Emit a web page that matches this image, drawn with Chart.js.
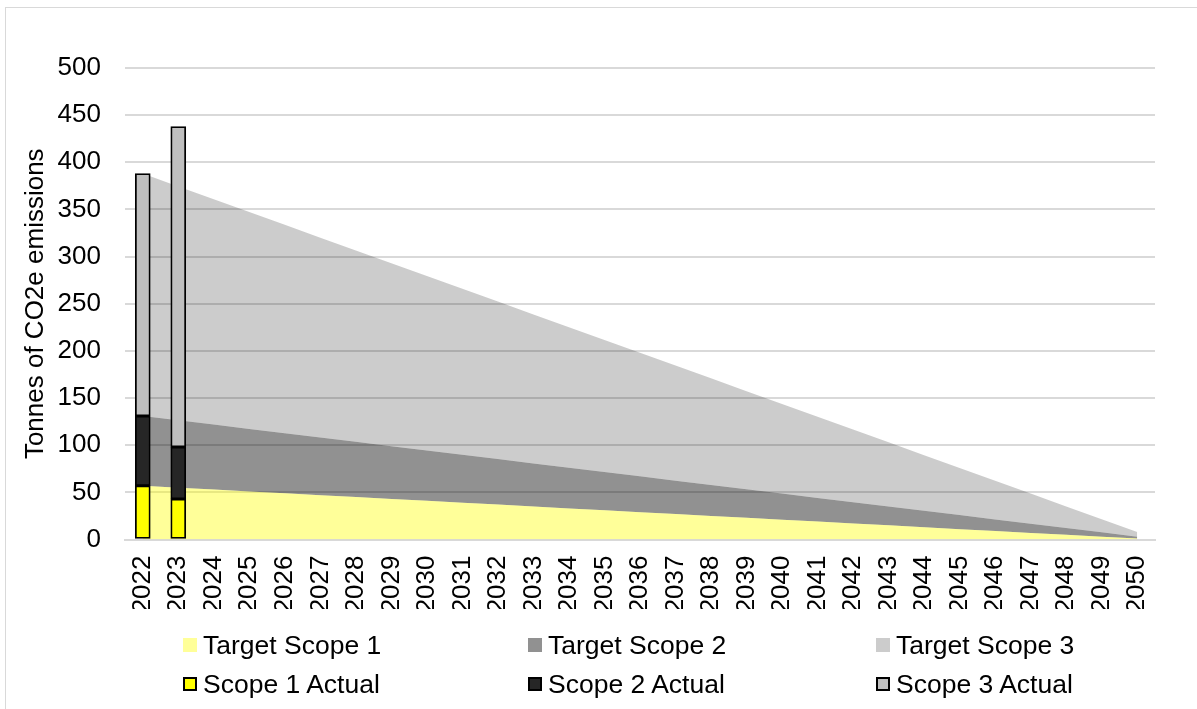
<!DOCTYPE html>
<html>
<head>
<meta charset="utf-8">
<title>Emissões</title>
<script src="https://cdn.jsdelivr.net/npm/chart.js@4.4.1/dist/chart.umd.min.js"></script>
<style>
  html, body { margin: 0; padding: 0; background: #fff; }
  #quadro { position: relative; width: 1197px; height: 709px; overflow: hidden; font-family: "Liberation Sans", Arial, sans-serif; }
  #moldura { position: absolute; left: 5px; top: 7px; width: 1300px; height: 800px; border: 1px solid #d9d9d9; box-sizing: border-box; }
  #grafico { position: absolute; left: 0; top: 0; }
  .legenda { position: absolute; font-size: 26.5px; line-height: 30px; color: #000; white-space: nowrap; }
  .legenda .marca { position: absolute; width: 14px; height: 14px; left: -20px; top: 8px; box-sizing: border-box; }
</style>
</head>
<body>
<div id="quadro">
  <div id="moldura"></div>
  <canvas id="grafico" width="1197" height="709"></canvas>

  <div class="legenda" style="left:203px; top:630px;"><span class="marca" style="background:#ffff99;"></span>Target Scope 1</div>
  <div class="legenda" style="left:548px; top:630px;"><span class="marca" style="background:#919191;"></span>Target Scope 2</div>
  <div class="legenda" style="left:896px; top:630px;"><span class="marca" style="background:#cccccc;"></span>Target Scope 3</div>
  <div class="legenda" style="left:203px; top:669px;"><span class="marca" style="background:#ffff00; border:2px solid #000;"></span>Scope 1 Actual</div>
  <div class="legenda" style="left:548px; top:669px;"><span class="marca" style="background:#262626; border:2px solid #000;"></span>Scope 2 Actual</div>
  <div class="legenda" style="left:896px; top:669px;"><span class="marca" style="background:#bfbfbf; border:2px solid #000;"></span>Scope 3 Actual</div>
</div>

<script>
// Anos do eixo x
const anos = ['2022', '2023', '2024', '2025', '2026', '2027', '2028', '2029', '2030', '2031',
  '2032', '2033', '2034', '2035', '2036', '2037', '2038', '2039', '2040', '2041',
  '2042', '2043', '2044', '2045', '2046', '2047', '2048', '2049', '2050'];

// Metas (toneladas) por ano
const metaEscopo1 = [57, 55, 53, 51, 49, 47, 45, 43, 41, 39, 37, 35, 33, 31, 29,
  27, 25, 23, 21, 19, 17, 15, 13, 11, 9, 7, 5, 3, 1];
const metaEscopo2 = [74, 71.4, 68.9, 66.3, 63.7, 61.1, 58.6, 56, 53.4, 50.9, 48.3, 45.7, 43.1, 40.6, 38,
  35.4, 32.9, 30.3, 27.7, 25.1, 22.6, 20, 17.4, 14.9, 12.3, 9.7, 7.1, 4.6, 2];
const metaEscopo3 = [257, 248, 239, 230, 221, 212, 203, 194, 185, 176, 167, 158, 149, 140, 131,
  122, 113, 104, 95, 86, 77, 68, 59, 50, 41, 32, 23, 14, 5];

// Valores reais medidos (só 2022 e 2023)
const realEscopo1 = [57, 43];
const realEscopo2 = [74, 55];
const realEscopo3 = [257, 340];

// Eixo y
const yMin = 0;
const yMax = 500;
const yPasso = 50;

const fonte = { family: '"Liberation Sans", Arial, sans-serif', size: 26 };

function gerarGrafico() {
  const ctx = document.getElementById('grafico');

  new Chart(ctx, {
    type: 'bar',
    data: {
      labels: anos,
      datasets: [
        {
          type: 'line', label: 'Target Scope 1', data: metaEscopo1, stack: 'meta', order: 2,
          backgroundColor: 'rgba(255,255,0,0.4)', borderColor: 'transparent', borderWidth: 0,
          pointRadius: 0, fill: 'origin'
        },
        {
          type: 'line', label: 'Target Scope 2', data: metaEscopo2, stack: 'meta', order: 2,
          backgroundColor: 'rgba(0,0,0,0.43)', borderColor: 'transparent', borderWidth: 0,
          pointRadius: 0, fill: '-1'
        },
        {
          type: 'line', label: 'Target Scope 3', data: metaEscopo3, stack: 'meta', order: 2,
          backgroundColor: 'rgba(0,0,0,0.2)', borderColor: 'transparent', borderWidth: 0,
          pointRadius: 0, fill: '-1'
        },
        {
          label: 'Scope 1 Actual', data: realEscopo1, stack: 'real', order: 1,
          backgroundColor: '#ffff00', borderColor: '#000', borderWidth: 1.8,
          borderSkipped: false, barThickness: 15
        },
        {
          label: 'Scope 2 Actual', data: realEscopo2, stack: 'real', order: 1,
          backgroundColor: '#262626', borderColor: '#000', borderWidth: 1.8,
          borderSkipped: false, barThickness: 15
        },
        {
          label: 'Scope 3 Actual', data: realEscopo3, stack: 'real', order: 1,
          backgroundColor: '#bfbfbf', borderColor: '#000', borderWidth: 1.8,
          borderSkipped: false, barThickness: 15
        }
      ]
    },
    options: {
      responsive: false,
      animation: false,
      layout: { padding: { top: 68, right: 42, bottom: 100, left: 20 } },
      plugins: {
        legend: { display: false },
        tooltip: { enabled: false }
      },
      scales: {
        x: {
          stacked: true,
          grid: { display: false, drawTicks: false },
          border: { display: true, color: '#d9d9d9', width: 2 },
          ticks: {
            autoSkip: false, minRotation: 90, maxRotation: 90,
            padding: 16, color: '#000', font: fonte
          },
          afterFit: function (escala) { escala.height = 709 - 100 - 539.5; }
        },
        y: {
          stacked: true,
          min: yMin,
          max: yMax,
          grid: { color: '#d9d9d9', lineWidth: 2, drawTicks: false },
          border: { display: false },
          ticks: { stepSize: yPasso, padding: 24, color: '#000', font: fonte },
          title: { display: true, text: 'Tonnes of CO2e emissions', color: '#000', font: fonte, padding: 0 },
          afterFit: function (escala) { escala.width = 125 - 20; }
        }
      }
    }
  });
}

window.addEventListener('DOMContentLoaded', gerarGrafico);
</script>
</body>
</html>
